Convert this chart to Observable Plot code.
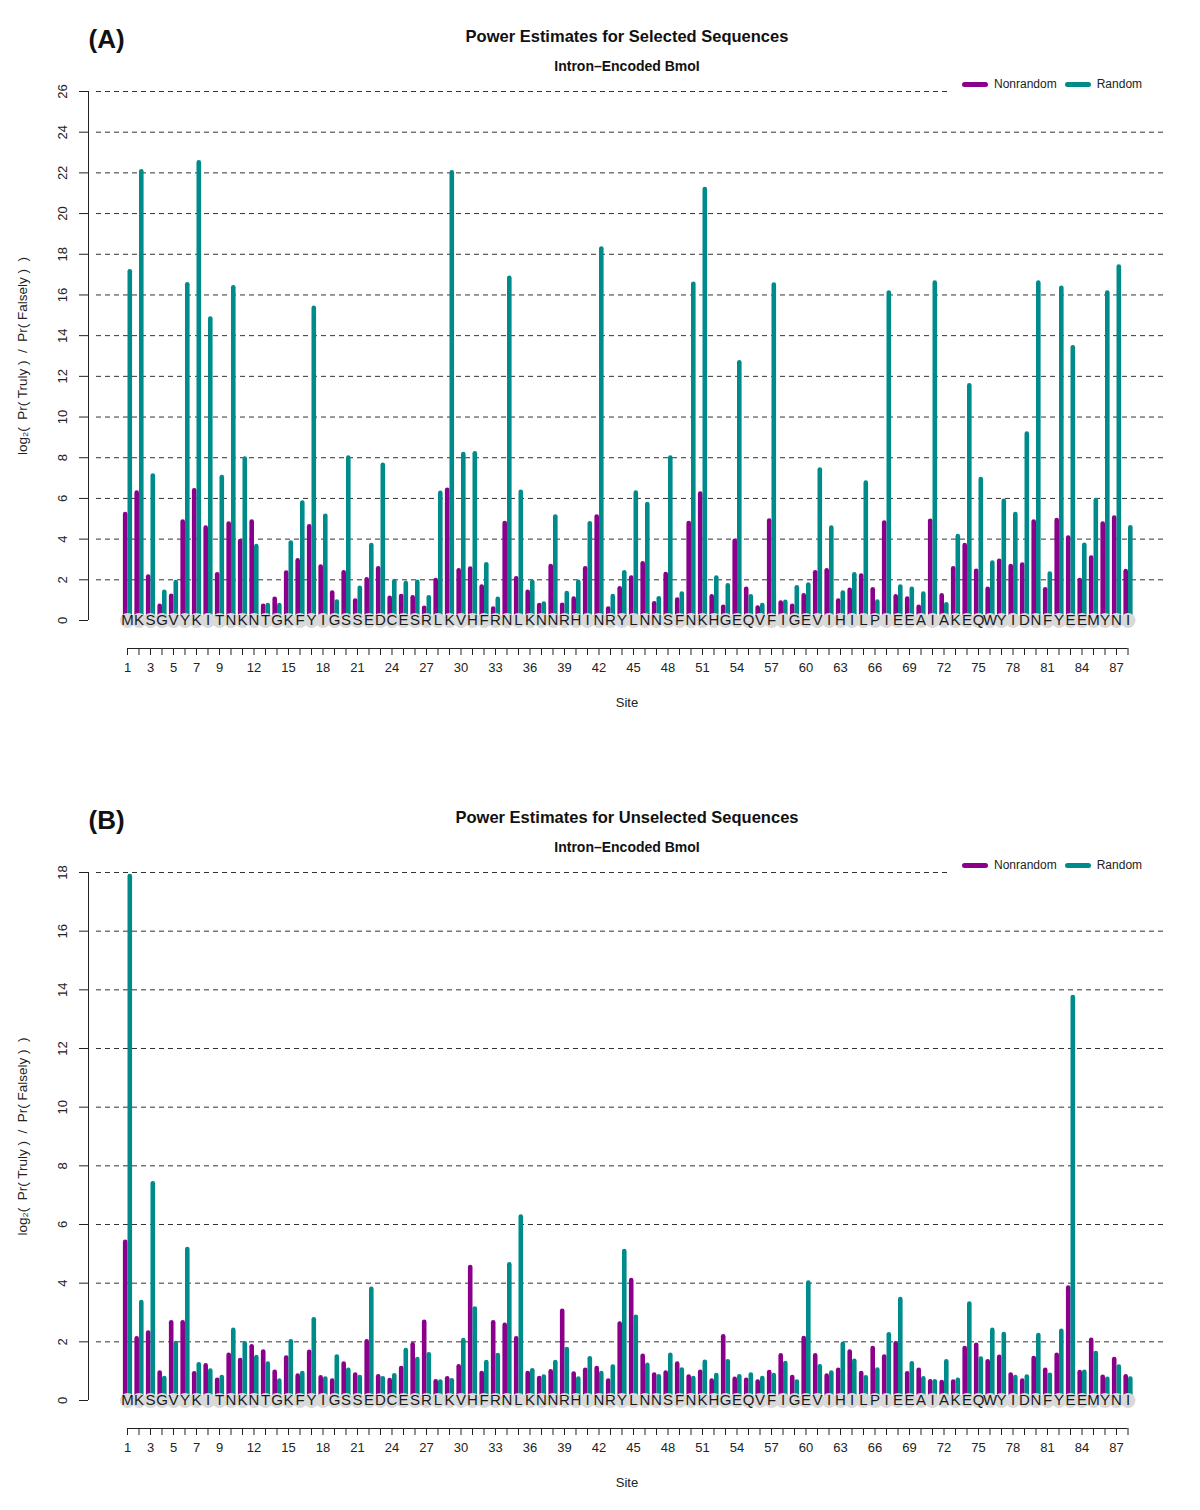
<!DOCTYPE html>
<html><head><meta charset="utf-8">
<script src="https://cdn.jsdelivr.net/npm/d3@7"></script>
<script src="https://cdn.jsdelivr.net/npm/@observablehq/plot@0.6"></script>
<style>
body{margin:0;background:#fff;font-family:"Liberation Sans",Arial,sans-serif;}
.panel{position:relative;width:1200px;}
.legend{position:absolute;background:#fff;display:flex;align-items:center;font-size:12px;color:#222;height:18px;}
.sw{display:inline-block;width:26px;height:5px;border-radius:3px;margin-right:6px;}
</style></head><body><div id="root"></div>
<script>
const residues = ["M","K","S","G","V","Y","K","I","T","N","K","N","T","G","K","F","Y","I","G","S","S","E","D","C","E","S","R","L","K","V","H","F","R","N","L","K","N","N","R","H","I","N","R","Y","L","N","N","S","F","N","K","H","G","E","Q","V","F","I","G","E","V","I","H","I","L","P","I","E","E","A","I","A","K","E","Q","W","Y","I","D","N","F","Y","E","E","M","Y","N","I"];
const sites = residues.map((_, i) => i + 1);
const siteLabels = [1,3,5,7,9,12,15,18,21,24,27,30,33,36,39,42,45,48,51,54,57,60,63,66,69,72,75,78,81,84,87];
const seriesNames = ["Nonrandom", "Random"];
const seriesColors = ["#8B008B", "#008B8B"];

// Panel A: selected sequences
const selectedNonrandom = [5.21,6.26,2.14,0.70,1.19,4.84,6.37,4.54,2.25,4.74,3.88,4.84,0.70,1.04,2.33,2.93,4.60,2.63,1.35,2.35,0.96,2.00,2.54,1.09,1.18,1.12,0.60,1.96,6.40,2.44,2.53,1.65,0.56,4.77,2.05,1.39,0.74,2.65,0.75,1.05,2.54,5.09,0.56,1.56,2.09,2.79,0.82,2.26,1.00,4.77,6.21,1.16,0.65,3.89,1.53,0.61,4.89,0.86,0.70,1.21,2.35,2.44,0.95,1.49,2.18,1.51,4.79,1.16,1.05,0.65,4.88,1.21,2.54,3.68,2.42,1.53,2.91,2.65,2.72,4.84,1.51,4.91,4.05,1.96,3.07,4.74,5.04,2.40];
const selectedRandom = [17.14,22.05,7.10,1.39,1.86,16.50,22.50,14.82,7.02,16.35,7.93,3.63,0.74,0.74,3.81,5.77,15.35,5.12,0.91,7.98,1.58,3.68,7.63,1.91,1.82,1.88,1.12,6.25,22.0,8.16,8.19,2.74,1.04,16.82,6.30,1.88,0.81,5.09,1.32,1.88,4.75,18.26,1.18,2.35,6.26,5.70,1.07,7.98,1.30,16.53,21.18,2.09,1.70,12.67,1.16,0.74,16.49,0.89,1.61,1.74,7.40,4.54,1.35,2.25,6.75,0.91,16.09,1.65,1.53,1.30,16.58,0.77,4.12,11.53,6.93,2.82,5.86,5.21,9.16,16.58,2.28,16.33,13.40,3.70,5.89,16.10,17.37,4.56];

// Panel B: unselected sequences
const unselectedNonrandom = [5.39,2.10,2.30,0.94,2.65,2.65,0.91,1.18,0.69,1.54,1.36,1.83,1.65,0.96,1.45,0.83,1.64,0.77,0.66,1.24,0.87,2.00,0.81,0.68,1.09,1.90,2.67,0.64,0.74,1.15,4.53,0.92,2.65,2.56,2.10,0.92,0.75,0.98,3.04,0.90,1.03,1.09,0.66,2.61,4.09,1.51,0.87,0.94,1.24,0.80,0.96,0.66,2.17,0.72,0.69,0.63,0.95,1.52,0.78,2.11,1.52,0.83,1.03,1.65,0.92,1.77,1.48,1.93,0.91,1.03,0.64,0.61,0.63,1.77,1.88,1.32,1.47,0.87,0.66,1.43,1.03,1.54,3.83,0.95,2.05,0.79,1.40,0.81];
const unselectedRandom = [17.86,3.34,7.39,0.75,1.94,5.15,1.22,1.00,0.78,2.39,1.93,1.46,1.24,0.66,2.00,0.92,2.75,0.73,1.48,1.03,0.78,3.79,0.74,0.84,1.70,1.40,1.56,0.63,0.67,2.04,3.12,1.29,1.53,4.63,6.25,1.01,0.80,1.29,1.74,0.73,1.42,0.92,1.14,5.08,2.84,1.20,0.81,1.54,1.04,0.75,1.30,0.85,1.32,0.81,0.87,0.75,0.85,1.26,0.63,4.00,1.15,0.94,1.92,1.34,0.77,1.04,2.24,3.44,1.25,0.74,0.64,1.32,0.69,3.29,1.41,2.39,2.25,0.78,0.80,2.21,0.86,2.36,13.74,0.96,1.60,0.72,1.14,0.73];

const yLabel = "log\u2082(  Pr( Truly )  /  Pr( Falsely )  )";
const xLabel = "Site";
const subtitle = "Intron\u2013Encoded BmoI";

const panels = [
  {tag: "(A)", title: "Power Estimates for Selected Sequences", nonrandom: selectedNonrandom, random: selectedRandom,
   yMax: 26, yStep: 2, height: 760, marginTop: 91, pxPerUnit: 529 / 26},
  {tag: "(B)", title: "Power Estimates for Unselected Sequences", nonrandom: unselectedNonrandom, random: unselectedRandom,
   yMax: 18, yStep: 2, height: 750, marginTop: 112, pxPerUnit: 528 / 18}
];

const font = "Liberation Sans, Arial, Helvetica, sans-serif";
const xDomain = [-2.39, 91.26];
const labelSet = new Set(siteLabels);
const gap = 28; // px between zero line and the x axis line

function makePanel(p) {
  const rows = sites.map((s, i) => ({site: s, aa: residues[i], nonrandom: p.nonrandom[i], random: p.random[i]}));
  const yMin = -gap / p.pxPerUnit;
  const frameH = p.yMax * p.pxPerUnit + gap;
  const marginBottom = p.height - p.marginTop - frameH;
  const yTicks = d3.range(0, p.yMax + 0.001, p.yStep);
  const gridTicks = yTicks.filter(d => d > 0);
  const gridStart = xDomain[0] + 8 / 1077 * (xDomain[1] - xDomain[0]);
  const svg = Plot.plot({
    width: 1200, height: p.height,
    marginLeft: 88, marginRight: 35, marginTop: p.marginTop, marginBottom,
    style: {fontFamily: font, background: "#fff", color: "#222"},
    x: {type: "linear", domain: xDomain},
    y: {type: "linear", domain: [yMin, p.yMax]},
    marks: [
      Plot.ruleY(gridTicks, {y: d => d, x1: gridStart, x2: xDomain[1], stroke: "#333", strokeWidth: 1, strokeDasharray: "5,4"}),
      Plot.ruleX(rows, {x: d => d.site - 0.2, y1: 0, y2: "nonrandom", stroke: seriesColors[0], strokeWidth: 4.6, strokeLinecap: "round"}),
      Plot.ruleX(rows, {x: d => d.site + 0.2, y1: 0, y2: "random", stroke: seriesColors[1], strokeWidth: 4.6, strokeLinecap: "round"}),
      Plot.dot(rows, {x: "site", y: 0, r: 7.5, fill: "#d9d9d9", stroke: null}),
      Plot.text(rows, {x: "site", y: 0, text: "aa", fontSize: 15, fill: "#1a1a1a"}),
      Plot.ruleX([xDomain[0]], {y1: 0, y2: p.yMax, stroke: "#222"}),
      Plot.axisY(yTicks, {anchor: "left", tickSize: 9, tickFormat: () => "", stroke: "#222"}),
      Plot.text(yTicks, {y: d => d, frameAnchor: "left", textAnchor: "middle", lineAnchor: "middle", dx: -26, rotate: -90, fontSize: 13, fill: "#222"}),
      Plot.ruleY([yMin], {x1: 1, x2: sites.length, stroke: "#222"}),
      Plot.axisX(sites, {anchor: "bottom", tickSize: 7, tickPadding: 7, tickFormat: d => labelSet.has(d) ? String(d) : "", fontSize: 13, label: null, stroke: "#222", fill: "#222"}),
      Plot.text([xLabel], {frameAnchor: "bottom", lineAnchor: "middle", dy: 54, fontSize: 13, fill: "#222"}),
      Plot.text([yLabel], {frameAnchor: "left", textAnchor: "middle", lineAnchor: "middle", dx: -66, dy: -gap / 2, rotate: -90, fontSize: 13.5, fill: "#222"}),
      Plot.text([p.title], {frameAnchor: "top", lineAnchor: "middle", dy: -55, fontSize: 16.5, fontWeight: "bold", fill: "#111"}),
      Plot.text([subtitle], {frameAnchor: "top", lineAnchor: "middle", dy: -25, fontSize: 14, fontWeight: "bold", fill: "#111"}),
      Plot.text([p.tag], {frameAnchor: "top-left", textAnchor: "start", lineAnchor: "middle", dy: -52, fontSize: 26, fontWeight: "bold", fill: "#111"})
    ]
  });
  const div = document.createElement("div");
  div.className = "panel";
  div.style.height = p.height + "px";
  div.appendChild(svg);
  const leg = document.createElement("div");
  leg.className = "legend";
  leg.style.left = "949px";
  leg.style.width = "216px";
  leg.style.top = (p.marginTop - 7 - 9) + "px";
  leg.innerHTML = seriesNames.map((n, i) =>
    `<span class="sw" style="background:${seriesColors[i]};margin-left:${i ? 8 : 13}px"></span><span>${n}</span>`).join("");
  div.appendChild(leg);
  return div;
}

const root = document.getElementById("root");
panels.forEach(p => root.appendChild(makePanel(p)));
</script>
</body></html>
